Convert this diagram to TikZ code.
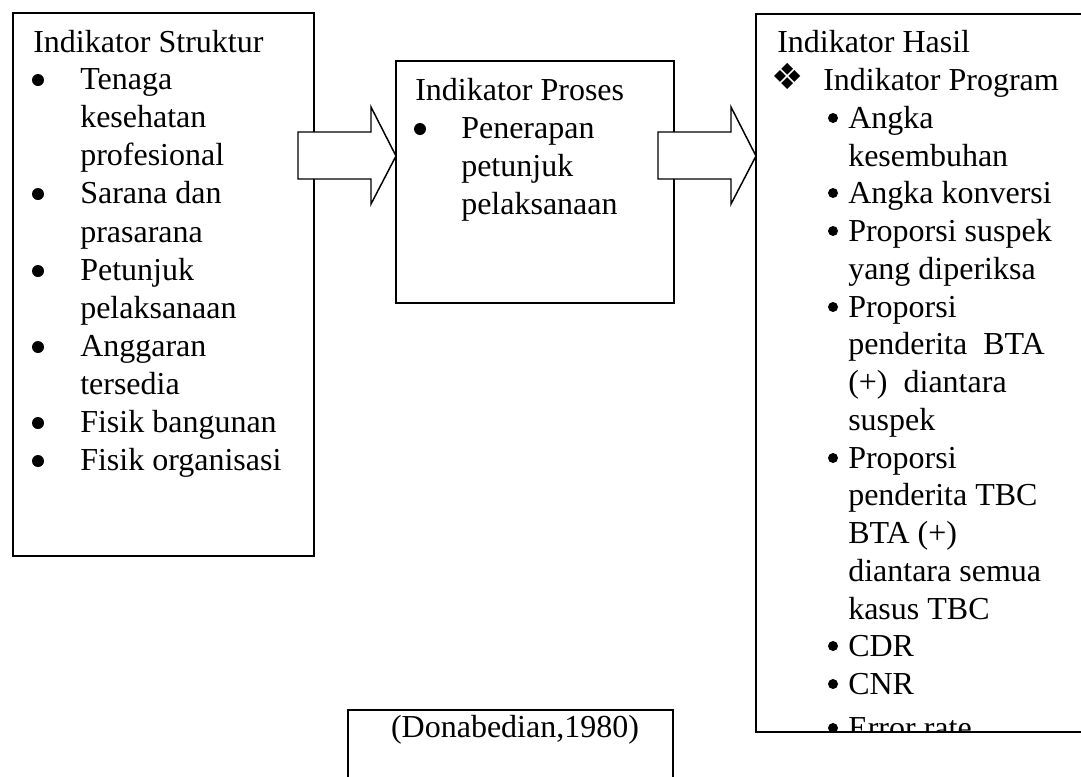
\documentclass[tikz,border=0pt]{standalone}
\usepackage{fontspec}
\setmainfont{Liberation Serif}
\newfontfamily\dingfont{DejaVu Sans}
\begin{document}
\begin{tikzpicture}[x=0.75pt, y=-0.75pt,
  box/.style={draw, line width=1.5pt, anchor=north west, inner sep=0pt},
  line/.style={anchor=base west, inner sep=0pt, font=\fontsize{24}{28}\selectfont},
  dot/.style={circle, fill, inner sep=0pt, minimum size=9pt},
  smalldot/.style={circle, fill, inner sep=0pt, minimum size=7.5pt},
  blockarrow/.style={draw, fill=white, line width=1.1pt, line join=miter}]

\useasboundingbox (0,0) rectangle (1081,776);
\clip (0,0) rectangle (1081,776);

% Boxes
\node[box, minimum width=225.75pt, minimum height=407.25pt] (struktur) at (12,12) {};
\node[box, minimum width=208.5pt, minimum height=181.5pt] (proses) at (395,60) {};
\node[box, minimum width=258.75pt, minimum height=538.5pt] (hasil) at (755,13) {};
\node[box, minimum width=243.75pt, minimum height=68.25pt] (sumber) at (347,709) {};

% Indikator Struktur
\node[line] (s-title) at (33,52) {Indikator Struktur};
\foreach \y/\t in {89/Tenaga, 127/kesehatan, 165/profesional, 203/Sarana dan,
    242/prasarana, 280/Petunjuk, 318/pelaksanaan, 356/Anggaran, 394/tersedia,
    432/Fisik bangunan, 470/Fisik organisasi}
  \node[line] (s-\y) at (80,\y) {\t};
\foreach \y in {89,203,280,356,432,470}
  \node[dot] (sb-\y) at (38,\y-9) {};

% Indikator Proses
\node[line] (p-title) at (415,100) {Indikator Proses};
\foreach \y/\t in {138/Penerapan, 176/petunjuk, 214/pelaksanaan}
  \node[line] (p-\y) at (461,\y) {\t};
\node[dot] (pb-138) at (420,129) {};

% Indikator Hasil
\begin{scope}
\clip (755,13) rectangle (1100,731);
\node[line] (h-title) at (777,52) {Indikator Hasil};
\node[anchor=base, inner sep=0pt, font=\dingfont\fontsize{27}{27}\selectfont] (h-diamond) at (788,89) {❖};
\node[line] (h-program) at (823,90) {Indikator Program};
\foreach \y/\t in {128/Angka, 166/kesembuhan, 203/Angka konversi, 241/Proporsi suspek,
    279/yang diperiksa, 317/Proporsi, 354/penderita\ \ BTA, 392/(+)\ \ diantara,
    430/suspek, 468/Proporsi, 505/penderita TBC, 543/BTA (+), 581/diantara semua,
    619/kasus TBC, 656/CDR, 694/CNR, 738/Error rate}
  \node[line] (h-\y) at (848,\y) {\t};
\foreach \y in {128,203,241,317,468,656,694,738}
  \node[smalldot] (hb-\y) at (833,\y-10) {};
\end{scope}

% Source
\node[line, anchor=base] (sumber-txt) at (515,737) {(Donabedian,1980)};

% Arrows
\foreach \x in {298,658}
  \draw[blockarrow] (\x,132) -- ++(73,0) -- ++(0,-25) -- ++(25,49)
    -- ++(-25,48) -- ++(0,-25) -- ++(-73,0) -- cycle;

\end{tikzpicture}
\end{document}
